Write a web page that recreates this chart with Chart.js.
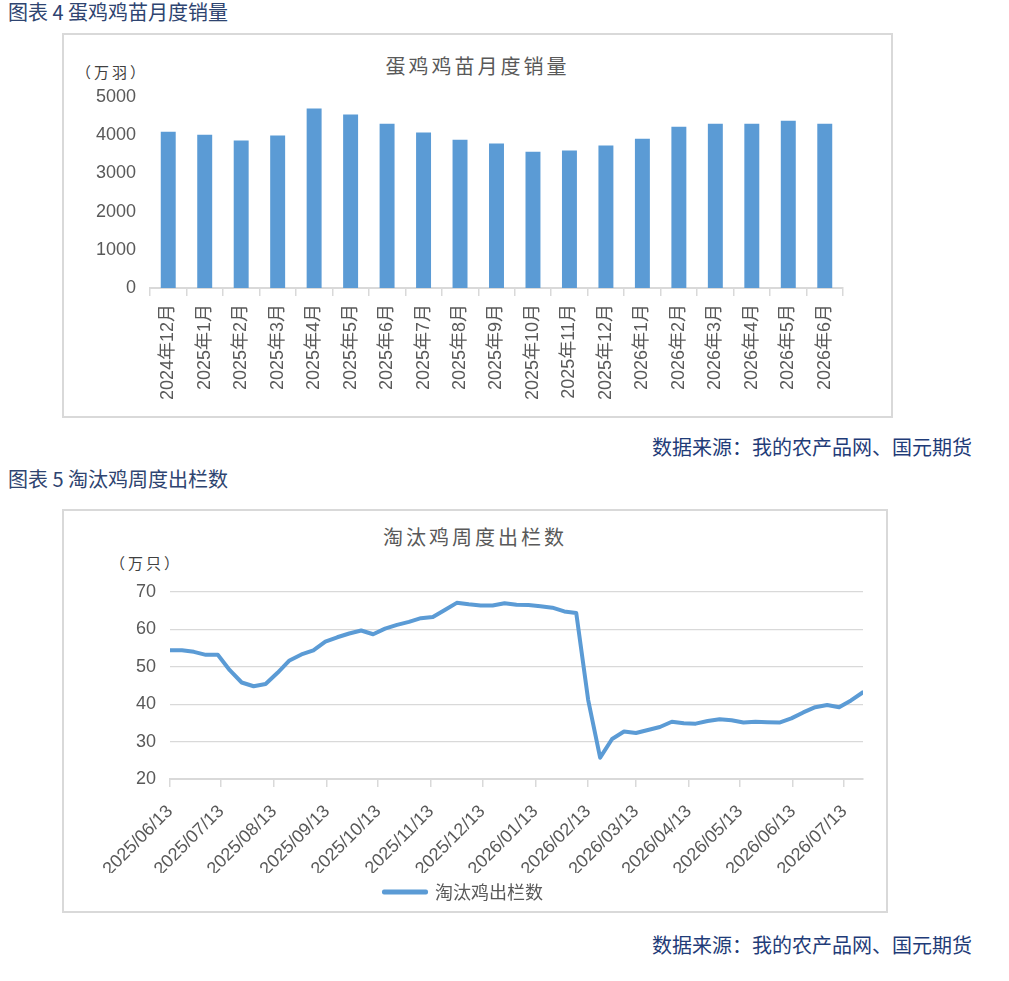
<!DOCTYPE html>
<html lang="zh-CN">
<head>
  <meta charset="UTF-8" />
  <title>蛋鸡鸡苗月度销量 / 淘汰鸡周度出栏数</title>
  <script src="https://cdn.jsdelivr.net/npm/chart.js"></script>
  <style>
    body {
      margin: 0;
      width: 1009px;
      height: 981px;
      background: #fff;
      position: relative;
      font-family: "Noto Sans CJK SC", "Liberation Sans", sans-serif;
      overflow: hidden;
    }
    .caption {
      position: absolute;
      left: 8px;
      font-size: 20px;
      line-height: 24px;
      color: #2e4470;
      white-space: nowrap;
    }
    .source {
      position: absolute;
      right: 37px;
      font-size: 20px;
      line-height: 24px;
      color: #1f3c78;
      white-space: nowrap;
    }
    .frame {
      position: absolute;
      left: 62px;
      border: 2px solid #d9d9d9;
      box-sizing: border-box;
    }
    .frame canvas { position: absolute; left: 0; top: 0; }
    .title {
      position: absolute;
      left: 0; right: 0;
      text-align: center;
      font-size: 20px;
      line-height: 24px;
      letter-spacing: 3px;
      color: #595959;
    }
    .unit {
      position: absolute;
      font-size: 15px;
      line-height: 20px;
      letter-spacing: 3px;
      color: #404040;
      white-space: nowrap;
    }
  </style>
</head>
<body>
  <div class="caption" style="top:0px;">图表 4&nbsp;蛋鸡鸡苗月度销量</div>
  <div class="frame" style="top:33px; width:831px; height:385px;">
    <div class="title" style="top:19px;">蛋鸡鸡苗月度销量</div>
    <div class="unit" style="left:12px; top:27px;">（万羽）</div>
    <canvas id="barChart"></canvas>
  </div>
  <div class="source" style="top:435px;">数据来源：我的农产品网、国元期货</div>

  <div class="caption" style="top:467px;">图表 5 淘汰鸡周度出栏数</div>
  <div class="frame" style="top:509px; width:826px; height:404px;">
    <div class="title" style="top:14px;">淘汰鸡周度出栏数</div>
    <div class="unit" style="left:46px; top:42px;">（万只）</div>
    <canvas id="lineChart"></canvas>
  </div>
  <div class="source" style="top:933px;">数据来源：我的农产品网、国元期货</div>

  <script>
    // 蛋鸡鸡苗月度销量（万羽）
    const barMonths = [
      '2024年12月', '2025年1月', '2025年2月', '2025年3月', '2025年4月', '2025年5月',
      '2025年6月', '2025年7月', '2025年8月', '2025年9月', '2025年10月', '2025年11月',
      '2025年12月', '2026年1月', '2026年2月', '2026年3月', '2026年4月', '2026年5月', '2026年6月'
    ];
    const barValues = [4090, 4010, 3860, 3990, 4700, 4540, 4300, 4070, 3880, 3780,
                       3570, 3600, 3730, 3910, 4220, 4300, 4300, 4380, 4300];

    // 淘汰鸡周度出栏数（万只）
    const weekDates = [
      '2025/06/13', '2025/06/20', '2025/06/27', '2025/07/04', '2025/07/11', '2025/07/18', '2025/07/25',
      '2025/08/01', '2025/08/08', '2025/08/15', '2025/08/22', '2025/08/29', '2025/09/05', '2025/09/12',
      '2025/09/19', '2025/09/26', '2025/10/03', '2025/10/10', '2025/10/17', '2025/10/24', '2025/10/31',
      '2025/11/07', '2025/11/14', '2025/11/21', '2025/11/28', '2025/12/05', '2025/12/12', '2025/12/19',
      '2025/12/26', '2026/01/02', '2026/01/09', '2026/01/16', '2026/01/23', '2026/01/30', '2026/02/06',
      '2026/02/13', '2026/02/20', '2026/02/27', '2026/03/06', '2026/03/13', '2026/03/20', '2026/03/27',
      '2026/04/03', '2026/04/10', '2026/04/17', '2026/04/24', '2026/05/01', '2026/05/08', '2026/05/15',
      '2026/05/22', '2026/05/29', '2026/06/05', '2026/06/12', '2026/06/19', '2026/06/26', '2026/07/03',
      '2026/07/10', '2026/07/17', '2026/07/24'
    ];
    const culledValues = [
      54.4, 54.4, 54.0, 53.2, 53.2, 49.1, 45.8, 44.8, 45.4, 48.4, 51.7, 53.3, 54.4, 56.7,
      57.9, 58.9, 59.7, 58.7, 60.2, 61.2, 62.0, 63.0, 63.3, 65.2, 67.1, 66.7, 66.4, 66.4,
      67.0, 66.6, 66.5, 66.2, 65.8, 64.8, 64.4, 41.1, 25.7, 30.7, 32.7, 32.3, 33.1, 33.9,
      35.3, 34.9, 34.8, 35.5, 36.0, 35.7, 35.1, 35.3, 35.2, 35.1, 36.2, 37.8, 39.2, 39.8,
      39.2, 41.0, 43.2
    ];
    const lineTickDates = [
      '2025/06/13', '2025/07/13', '2025/08/13', '2025/09/13', '2025/10/13', '2025/11/13', '2025/12/13',
      '2026/01/13', '2026/02/13', '2026/03/13', '2026/04/13', '2026/05/13', '2026/06/13', '2026/07/13'
    ];

    const tickFont = { family: "'Liberation Sans', 'Noto Sans CJK SC', sans-serif", size: 18 };
    const tickColor = '#595959';
    const axisGrey = '#d9d9d9';
    const blue = '#5b9bd5';

    // days since first week, so the x axis behaves like a date axis
    const dayOf = s => {
      const [y, m, d] = s.split('/').map(Number);
      const [y0, m0, d0] = weekDates[0].split('/').map(Number);
      return (Date.UTC(y, m - 1, d) - Date.UTC(y0, m0 - 1, d0)) / 86400000;
    };

    // 柱状图
    const c1 = document.getElementById('barChart');
    c1.width = 827; c1.height = 381;
    new Chart(c1, {
      type: 'bar',
      data: {
        labels: barMonths,
        datasets: [{
          label: '蛋鸡鸡苗月度销量',
          data: barValues,
          backgroundColor: blue,
          categoryPercentage: 1,
          barPercentage: 0.41
        }]
      },
      options: {
        responsive: false,
        animation: false,
        layout: { padding: { top: 62, right: 48, left: 0, bottom: 0 } },
        plugins: { legend: { display: false }, tooltip: { enabled: false } },
        scales: {
          x: {
            grid: { display: true, offset: true, drawOnChartArea: false, tickLength: 8, color: axisGrey, lineWidth: 1.5 },
            border: { display: true, color: axisGrey, width: 2 },
            ticks: { minRotation: 90, maxRotation: 90, autoSkip: false, padding: 8, color: tickColor, font: tickFont },
            afterFit: s => { s.height = 128; }
          },
          y: {
            min: 0, max: 5000,
            grid: { display: false, drawTicks: false },
            border: { display: false },
            ticks: { stepSize: 1000, padding: 14, color: tickColor, font: tickFont, callback: v => String(v) },
            afterFit: s => { s.width = 86; }
          }
        }
      }
    });

    // 折线图
    const c2 = document.getElementById('lineChart');
    c2.width = 822; c2.height = 400;
    new Chart(c2, {
      type: 'line',
      data: {
        datasets: [{
          label: '淘汰鸡出栏数',
          data: weekDates.map((d, i) => ({ x: dayOf(d), y: culledValues[i] })),
          borderColor: blue,
          backgroundColor: blue,
          borderWidth: 4,
          pointRadius: 0,
          tension: 0,
          borderJoinStyle: 'round',
          borderCapStyle: 'round'
        }]
      },
      options: {
        responsive: false,
        animation: false,
        layout: { padding: { top: 81, right: 23, left: 0, bottom: 0 } },
        plugins: {
          tooltip: { enabled: false },
          legend: {
            position: 'bottom',
            labels: {
              boxWidth: 42, boxHeight: 1, padding: 10,
              color: tickColor,
              font: { family: "'Noto Sans CJK SC', sans-serif", size: 18 }
            }
          }
        },
        scales: {
          x: {
            type: 'linear',
            min: 0,
            max: dayOf(weekDates[weekDates.length - 1]),
            afterBuildTicks: s => { s.ticks = lineTickDates.map(d => ({ value: dayOf(d) })); },
            grid: { drawOnChartArea: false, tickLength: 8, color: axisGrey, lineWidth: 1.5 },
            border: { display: true, color: axisGrey, width: 2 },
            ticks: {
              minRotation: 45, maxRotation: 45, autoSkip: false, padding: 14,
              color: tickColor, font: tickFont,
              callback: (v, i) => lineTickDates[i]
            },
            afterFit: s => { s.height = 94; }
          },
          y: {
            min: 20, max: 70,
            grid: { color: axisGrey, lineWidth: 1.3, drawTicks: false },
            border: { display: false },
            ticks: { stepSize: 10, padding: 14, color: tickColor, font: tickFont },
            afterFit: s => { s.width = 106; }
          }
        }
      }
    });
  </script>
</body>
</html>
